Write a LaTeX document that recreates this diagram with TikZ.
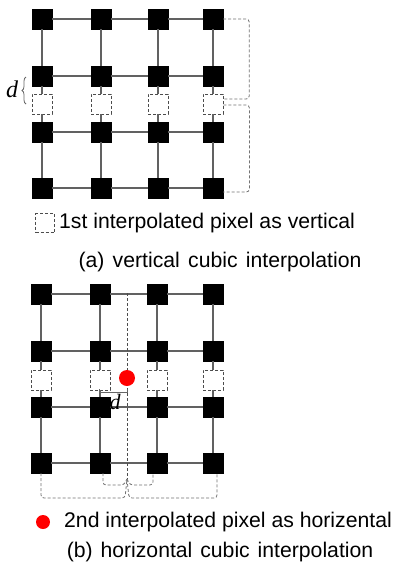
\documentclass[tikz,border=0pt]{standalone}
\usepackage{fontspec}
\setmainfont{Liberation Sans}
\newfontfamily\dfont{Liberation Serif}
\usetikzlibrary{calc,decorations.pathreplacing}
\tikzset{
 pix/.style={draw=black, fill=black, minimum size=20pt, inner sep=0pt},
 ipix/.style={draw=black!70, densely dashed, fill=white, minimum size=20pt, inner sep=0pt, line width=0.8pt},
 gridline/.style={draw=black!62, line width=1.1pt},
 brk/.style={draw=black!55, densely dashed, line width=0.8pt, rounded corners=3pt},
 txt/.style={font=\fontsize{21.2}{25}\selectfont, inner sep=0pt},
 dtxt/.style={font=\fontsize{24}{28}\selectfont\dfont\itshape, inner sep=0pt}
}

\begin{document}
\begin{tikzpicture}[x=1pt,y=-1pt]
\useasboundingbox[fill=white] (0,0) rectangle (400,574);

% (a) vertical
\foreach \c/\x in {1/42,2/101,3/158,4/213} {
 \foreach \r/\y in {1/19,2/76,3/132,4/188}
  \node[pix] (a-\r-\c) at (\x,\y) {};
 \node[ipix] (a-i-\c) at (\x,104) {};
}
\foreach \c in {1,...,4} \draw[gridline] (a-1-\c) -- (a-2-\c) -- (a-i-\c) -- (a-3-\c) -- (a-4-\c);
\foreach \r in {1,...,4} \draw[gridline] (a-\r-1) -- (a-\r-2) -- (a-\r-3) -- (a-\r-4);
\draw[brk] (a-1-4.east) -- ++(26,0) |- ($(a-i-4.east)+(0,-5)$);
\draw[brk] ($(a-i-4.east)+(0,1)$) -- ++(26,0) |- ($(a-4-4.east)+(0,4)$);
\draw[black!60, line width=0.8pt, decorate, decoration={brace, amplitude=4pt}] (26,104) -- (26,77);
\node[dtxt] (da) at (12,89) {d};

\node[ipix, minimum size=19pt] (lega) at (45,223) {};
\node[txt, anchor=west] (lega-t) at (59,223) {1st interpolated pixel as vertical};
\node[txt] (capa) at (220,262) {(a)\hspace{2.4pt} vertical\hspace{2.4pt} cubic\hspace{2.4pt} interpolation};

% (b) horizontal
\foreach \c/\x in {1/41,2/100,3/157,4/213} {
 \foreach \r/\y in {1/294,2/351,3/407,4/463}
  \node[pix] (b-\r-\c) at (\x,\y) {};
 \node[ipix] (b-i-\c) at (\x,380) {};
}
\foreach \c in {1,...,4} \draw[gridline] (b-1-\c) -- (b-2-\c) -- (b-i-\c) -- (b-3-\c) -- (b-4-\c);
\foreach \r in {1,...,4} \draw[gridline] (b-\r-1) -- (b-\r-2) -- (b-\r-3) -- (b-\r-4);
\coordinate (ctop) at (127,293);
\coordinate (cbot) at (127,479);
\draw[black!70, densely dashed, line width=0.8pt] (ctop) -- (cbot);
\draw[brk] ([xshift=3pt]b-4-2.south) |- (124,485) -- (cbot);
\draw[brk] (cbot) -- (130,485) -| ([xshift=-4pt]b-4-3.south);
\draw[brk] (b-4-1.south) |- (125,498) -- (cbot);
\draw[brk] (cbot) -- (129,498) -| ([xshift=4pt]b-4-4.south);
\node[circle, fill=red, minimum size=16pt, inner sep=0pt] (rdot) at (127,378) {};
\draw[black!60, line width=0.9pt] (99,389) -- (99,392) -- (127,392) -- (127,389);
\node[dtxt, font=\fontsize{22}{26}\selectfont\dfont\itshape] (db) at (115,402) {d};

\node[circle, fill=red, minimum size=14pt, inner sep=0pt] (legb) at (43,522) {};
\node[txt, anchor=west] (legb-t) at (64,522) {2nd interpolated pixel as horizental};
\node[txt] (capb) at (220,552) {(b)\hspace{2pt} horizontal\hspace{2pt} cubic\hspace{2pt} interpolation};
\end{tikzpicture}
\end{document}
